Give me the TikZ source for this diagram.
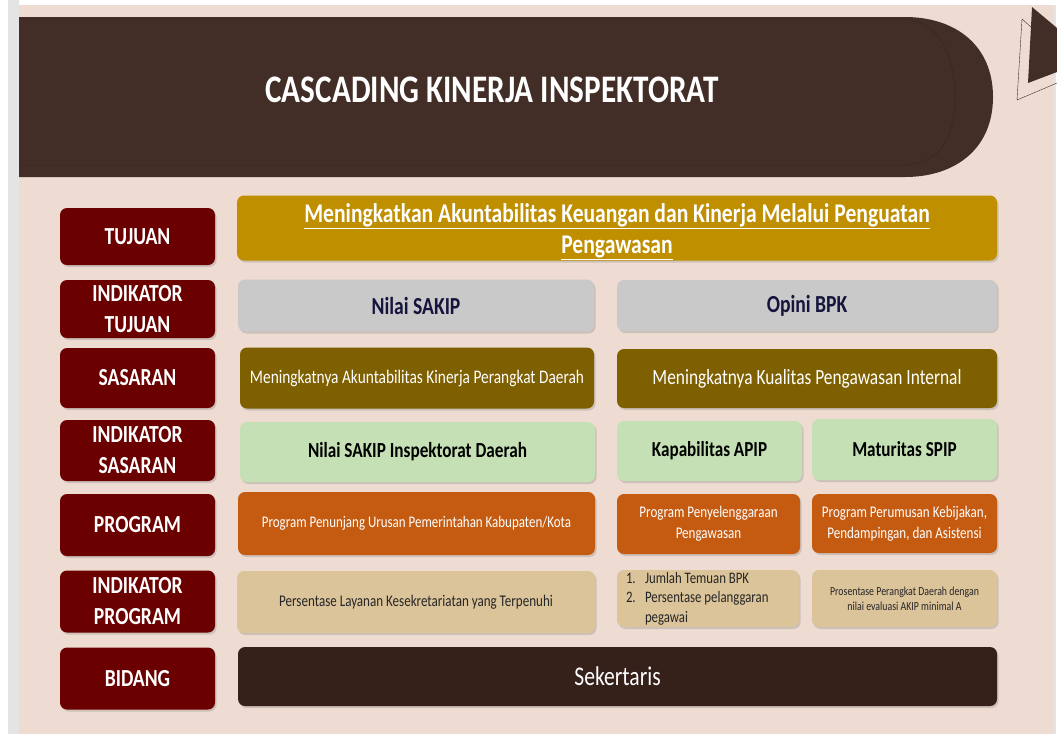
\documentclass[tikz,border=0pt]{standalone}
\usepackage{fontspec}
\setmainfont{Carlito}[FakeStretch=0.8]
\usepackage{tikz}
\usetikzlibrary{shadows}
\definecolor{pagebg}{HTML}{EEDCD2}
\definecolor{stripgray}{HTML}{E4E4E4}
\definecolor{headbrown}{HTML}{422E27}
\definecolor{headline}{HTML}{33231D}
\definecolor{lvlred}{HTML}{6B0000}
\definecolor{goldbox}{HTML}{BF8F00}
\definecolor{silverbox}{HTML}{C9C9C9}
\definecolor{olivebox}{HTML}{7F6000}
\definecolor{mintbox}{HTML}{C5E0B4}
\definecolor{rustbox}{HTML}{C55A11}
\definecolor{sandbox}{HTML}{DBC39A}
\definecolor{darkbar}{HTML}{36201A}
\definecolor{navytext}{HTML}{14143C}
\definecolor{sandtext}{HTML}{262626}
\tikzstyle{box}=[rounded corners=7pt,inner sep=2pt,align=center,drop shadow={shadow xshift=1.5pt,shadow yshift=-2pt,opacity=.3}]
\tikzstyle{level}=[box,fill=lvlred,text=white,minimum width=155pt,font=\fontsize{24.5}{31}\selectfont\bfseries]
\tikzstyle{goal}=[box,fill=goldbox,text=white,font=\fontsize{27}{31}\selectfont\bfseries]
\tikzstyle{goalind}=[box,fill=silverbox,text=navytext,font=\fontsize{24.5}{28}\selectfont\bfseries]
\tikzstyle{target}=[box,fill=olivebox,text=white]
\tikzstyle{targetind}=[box,fill=mintbox,text=black,font=\fontsize{21.5}{26}\selectfont\bfseries]
\tikzstyle{prog}=[box,fill=rustbox,text=white]
\tikzstyle{progind}=[box,fill=sandbox,text=sandtext]
\tikzstyle{unit}=[box,fill=darkbar,text=white,font=\fontsize{27}{32}\selectfont]
\newcommand{\itemno}[1]{\makebox[19pt][l]{#1}}

\begin{document}
\begin{tikzpicture}[x=1pt,y=-1pt]
      \useasboundingbox (0,0) rectangle (1057,734);
      \fill[white] (0,0) rectangle (1057,734);
      \fill[stripgray] (8,0) rectangle (19,734);
      \fill[pagebg] (19,5) rectangle (1054,734);
      \fill[stripgray] (1054,5) rectangle (1056,734);
      \fill[headbrown] (19,17) -- (905,17) .. controls (955,17) and (993,45) .. (993,97)
            .. controls (993,149) and (955,177) .. (905,177) -- (19,177) -- cycle;
      \draw[headline] (19,19) -- (902,19) .. controls (935,19) and (955,50) .. (955,97)
            .. controls (955,144) and (935,165) .. (902,165) -- (19,165);
      \fill[headbrown] (1032,7) -- (1057,28) -- (1057,72) -- (1028,83) -- cycle;
      \draw[headbrown] (1032,28) -- (1022,19) -- (1017,100) -- (1057,83);
      \node[text=white,font=\fontsize{39}{44}\selectfont\bfseries] at (492,90) (title) {CASCADING KINERJA INSPEKTORAT};

      \node[level,minimum height=57pt] at (137.5,236.5) (tujuan) {TUJUAN};
      \node[level,minimum height=58pt] at (137.5,309) (indtujuan) {INDIKATOR\\TUJUAN};
      \node[level,minimum height=60pt] at (137.5,378) (sasaran) {SASARAN};
      \node[level,minimum height=61pt] at (137.5,450.5) (indsasaran) {INDIKATOR\\SASARAN};
      \node[level,minimum height=62pt] at (137.5,525) (program) {PROGRAM};
      \node[level,minimum height=62pt] at (137.5,601.5) (indprogram) {INDIKATOR\\PROGRAM};
      \node[level,minimum height=62pt] at (137.5,678.5) (bidang) {BIDANG};

      \node[goal,inner sep=0pt,minimum width=760pt,minimum height=65pt] at (617,228) (goal) {\rule{0pt}{26pt}\underline{Meningkatkan Akuntabilitas Keuangan dan Kinerja Melalui Penguatan}\\\underline{Pengawasan}};
      \node[goalind,minimum width=356pt,minimum height=52pt] at (416,305.5) (sakip) {Nilai SAKIP};
      \node[goalind,minimum width=380pt,minimum height=51pt] at (807,305.5) (bpk) {Opini BPK};

      \node[target,minimum width=354pt,minimum height=61pt,font=\fontsize{19.2}{23}\selectfont] at (417,378) (akun) {Meningkatnya Akuntabilitas Kinerja Perangkat Daerah};
      \node[target,minimum width=380pt,minimum height=59pt,font=\fontsize{21.7}{26}\selectfont] at (807,378.5) (kualitas) {Meningkatnya Kualitas Pengawasan Internal};

      \node[targetind,minimum width=355pt,minimum height=60pt] at (417.5,452) (sakipdaerah) {Nilai SAKIP Inspektorat Daerah};
      \node[targetind,minimum width=185pt,minimum height=60pt,font=\fontsize{21.4}{26}\selectfont\bfseries] at (709.5,451) (apip) {Kapabilitas APIP};
      \node[targetind,minimum width=185pt,minimum height=61pt,font=\fontsize{21.4}{26}\selectfont\bfseries] at (904.5,449.5) (spip) {Maturitas SPIP};

      \node[prog,minimum width=357pt,minimum height=63pt,font=\fontsize{16.2}{20}\selectfont] at (416.5,523.5) (penunjang) {Program Penunjang Urusan Pemerintahan Kabupaten/Kota};
      \node[prog,minimum width=183pt,minimum height=60pt,font=\fontsize{16.3}{21}\selectfont] at (708.5,524) (penyelenggaraan) {Program Penyelenggaraan\\Pengawasan};
      \node[prog,minimum width=185pt,minimum height=59pt,font=\fontsize{16.3}{21}\selectfont] at (904.5,523.5) (perumusan) {Program Perumusan Kebijakan,\\Pendampingan, dan Asistensi};

      \node[progind,minimum width=358pt,minimum height=62pt,font=\fontsize{16.3}{20}\selectfont] at (416,602) (layanan) {Persentase Layanan Kesekretariatan yang Terpenuhi};
      \node[progind,minimum width=182pt,minimum height=57pt,text width=164pt,inner xsep=0pt,align=flush left,font=\fontsize{16}{19.5}\selectfont] at (708,598.5) (temuan) {\itemno{1.}Jumlah Temuan BPK\\\itemno{2.}Persentase pelanggaran\\\itemno{}pegawai};
      \node[progind,minimum width=185pt,minimum height=57pt,font=\fontsize{12.3}{15}\selectfont] at (904.5,598.5) (prosentase) {Prosentase Perangkat Daerah dengan\\nilai evaluasi AKIP minimal A};

      \node[unit,minimum width=759pt,minimum height=59pt] at (617.5,676.5) (sekertaris) {Sekertaris};
\end{tikzpicture}
\end{document}
